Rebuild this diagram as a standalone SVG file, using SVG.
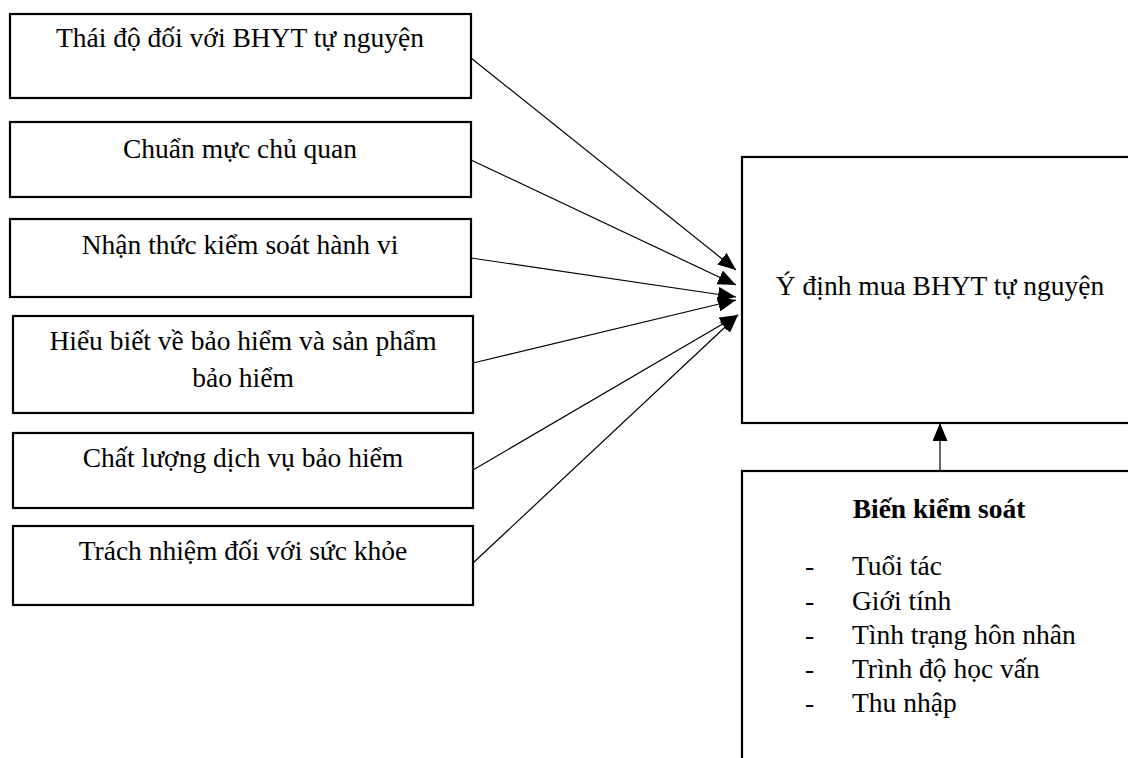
<svg xmlns="http://www.w3.org/2000/svg" width="1128" height="758" viewBox="0 0 1128 758">
<style>
.box{fill:#fff;stroke:#000;stroke-width:2.2}
.t{font-family:"Liberation Serif","Times New Roman",serif;font-size:27.5px;fill:#000}
.c{text-anchor:middle}
.b{font-weight:bold}
.con{stroke:#000;stroke-width:1.2;fill:none}
</style>
<defs>
<marker id="ah" markerUnits="userSpaceOnUse" markerWidth="18" markerHeight="15" refX="18" refY="7.5" orient="auto">
<path d="M0,0 L18,7.5 L0,15 z" fill="#000"/>
</marker>
</defs>
<rect width="1128" height="758" fill="#fff"/>
<g id="n1"><rect class="box" x="10" y="14" width="461" height="84"/><text class="t c" x="240" y="47">Thái độ đối với BHYT tự nguyện</text></g>
<g id="n2"><rect class="box" x="10" y="122" width="461" height="75"/><text class="t c" x="240" y="158">Chuẩn mực chủ quan</text></g>
<g id="n3"><rect class="box" x="10" y="219" width="461" height="78"/><text class="t c" x="240" y="254">Nhận thức kiểm soát hành vi</text></g>
<g id="n4"><rect class="box" x="13" y="316" width="460" height="97"/><text class="t c" x="243" y="350">Hiểu biết về bảo hiểm và sản phẩm</text><text class="t c" x="243" y="387">bảo hiểm</text></g>
<g id="n5"><rect class="box" x="13" y="433" width="460" height="75"/><text class="t c" x="243" y="467">Chất lượng dịch vụ bảo hiểm</text></g>
<g id="n6"><rect class="box" x="13" y="526" width="460" height="79"/><text class="t c" x="243" y="560">Trách nhiệm đối với sức khỏe</text></g>
<g id="target"><rect class="box" x="742" y="157" width="400" height="266"/><text class="t c" x="940" y="295">Ý định mua BHYT tự nguyện</text></g>
<g id="control"><rect class="box" x="742" y="471" width="400" height="300"/>
<text class="t c b" x="939" y="518">Biến kiểm soát</text>
<text class="t" x="805" y="575">-</text><text class="t" x="852" y="575">Tuổi tác</text>
<text class="t" x="805" y="610">-</text><text class="t" x="852" y="610">Giới tính</text>
<text class="t" x="805" y="644">-</text><text class="t" x="852" y="644">Tình trạng hôn nhân</text>
<text class="t" x="805" y="678">-</text><text class="t" x="852" y="678">Trình độ học vấn</text>
<text class="t" x="805" y="712">-</text><text class="t" x="852" y="712">Thu nhập</text>
</g>
<g id="connectors">
<line class="con" x1="471" y1="58" x2="736" y2="270" marker-end="url(#ah)"/>
<line class="con" x1="471" y1="160" x2="736" y2="285" marker-end="url(#ah)"/>
<line class="con" x1="471" y1="258" x2="736" y2="297" marker-end="url(#ah)"/>
<line class="con" x1="473" y1="363" x2="736" y2="300" marker-end="url(#ah)"/>
<line class="con" x1="473" y1="470" x2="738" y2="315" marker-end="url(#ah)"/>
<line class="con" x1="473" y1="563" x2="738" y2="315" marker-end="url(#ah)"/>
<line class="con" x1="940" y1="470" x2="940" y2="423" marker-end="url(#ah)"/>
</g>
</svg>
